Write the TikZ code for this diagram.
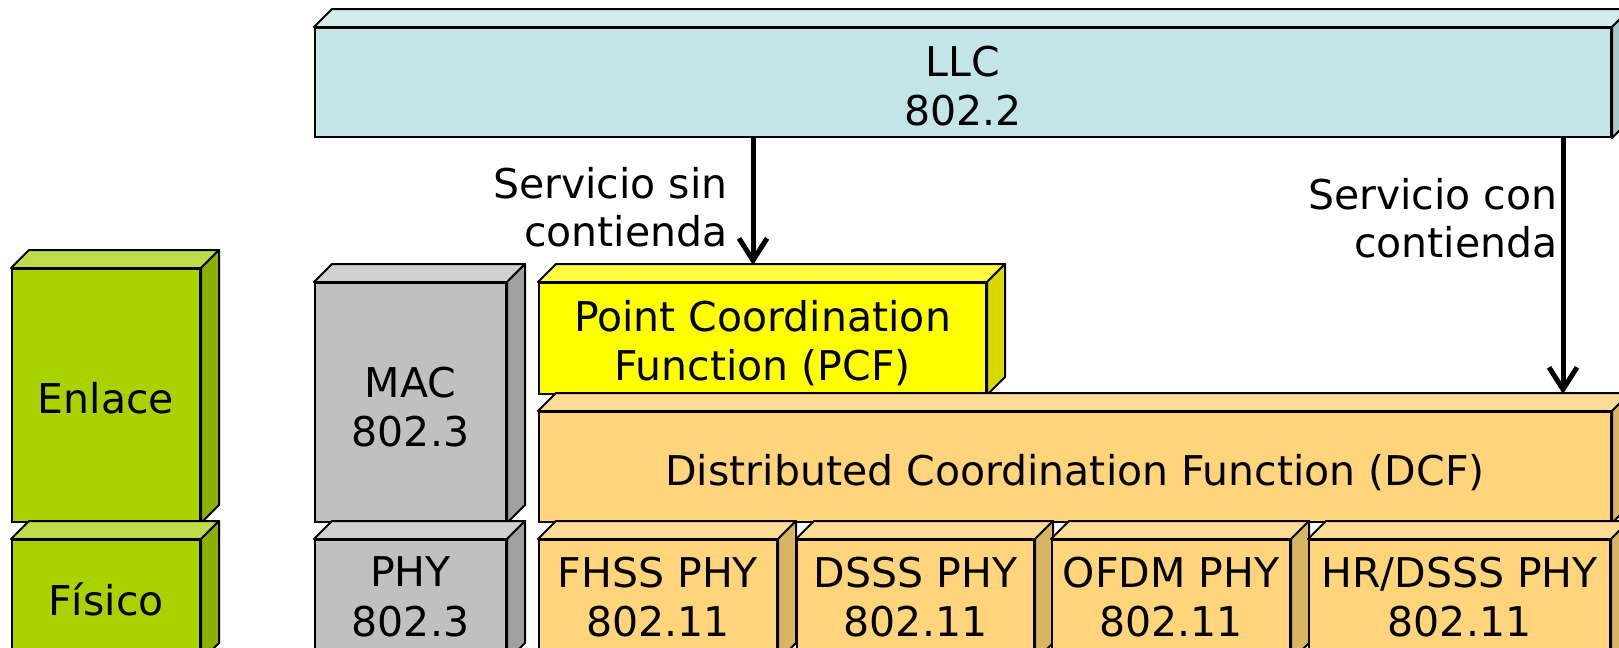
\documentclass[tikz,border=0pt]{standalone}
\usepackage{fontspec}
\setmainfont{DejaVu Sans}
\usetikzlibrary{arrows.meta}
\definecolor{llcF}{HTML}{C4E5E8}
\definecolor{llcT}{HTML}{D4ECEE}
\definecolor{llcS}{HTML}{A9C8CB}
\definecolor{grnF}{HTML}{AAD200}
\definecolor{grnT}{HTML}{BCDC48}
\definecolor{grnS}{HTML}{8CB000}
\definecolor{gryF}{HTML}{C0C0C0}
\definecolor{gryT}{HTML}{D0D0D0}
\definecolor{gryS}{HTML}{A0A0A0}
\definecolor{yelF}{HTML}{FFFF00}
\definecolor{yelT}{HTML}{FFFF40}
\definecolor{yelS}{HTML}{D9D900}
\definecolor{orgF}{HTML}{FFD47A}
\definecolor{orgT}{HTML}{FFDD96}
\definecolor{orgS}{HTML}{D9B461}
\newcommand\fsz{\fontsize{20.5}{24}\selectfont}
\newcommand\fszb{\fontsize{20.5}{24.8}\selectfont}
\tikzset{
  face/.style={draw, line width=1pt, inner sep=0pt},
  btxt/.style={inner sep=0pt, align=center, font=\fszb},
  edge/.style={draw=black, line width=1pt, line join=round},
  arr/.style={line width=2.5pt, -{Straight Barb[length=11pt,width=14pt]}},
  lbl/.style={align=right, inner sep=0pt, font=\fsz}
}
% name, x1, y1, x2, y2, colour set, text, text offset (px, down)
\newcommand\blk[8]{%
  \node[face, fill=#6F, minimum width={(#4-#2)*0.5pt}, minimum height={(#5-#3)*0.5pt}]
    (#1) at ({(#2+#4)/2},{(#3+#5)/2}) {};
  \filldraw[edge, fill=#6T] (#1.north west) -- ++(18,-18) -- ([shift={(18,-18)}]#1.north east) -- (#1.north east) -- cycle;
  \filldraw[edge, fill=#6S] (#1.north east) -- ++(18,-18) -- ([shift={(18,-18)}]#1.south east) -- (#1.south east) -- cycle;
  \node[btxt] (#1txt) at ([shift={(0,#8)}]#1.center) {#7};
}
\begin{document}
\begin{tikzpicture}[x=0.5pt,y=-0.5pt]
\useasboundingbox (0,0) rectangle (1619,648);
\clip (0,0) rectangle (1619,648);
\blk{llc}{315}{28}{1611}{137}{llc}{LLC\\802.2}{3.5}
\blk{enl}{12}{269}{200}{522}{grn}{Enlace}{2.5}
\blk{fis}{12}{540}{200}{660}{grn}{Físico}{-1}
\blk{mac}{315}{283}{506}{522}{gry}{MAC\\802.3}{4.5}
\blk{phy}{315}{540}{506}{660}{gry}{PHY\\802.3}{-3}
\blk{pcf}{539}{283}{986}{394}{yel}{Point Coordination\\Function (PCF)}{4.5}
\blk{dcf}{539}{412}{1611}{522}{org}{Distributed Coordination Function (DCF)}{6}
\blk{fhss}{539}{540}{777}{660}{org}{FHSS PHY\\802.11}{-3}
\blk{dsss}{797}{540}{1034}{660}{org}{DSSS PHY\\802.11}{-3}
\blk{ofdm}{1052}{540}{1290}{660}{org}{OFDM PHY\\802.11}{-3}
\blk{hr}{1309}{540}{1610}{660}{org}{HR/DSSS PHY\\802.11}{-3}
\coordinate (t1) at (753,265);
\coordinate (t2) at (1563,394);
\draw[arr] (llc.south -| t1) -- (t1);
\draw[arr] (llc.south -| t2) -- (t2);
\node[lbl, anchor=east] (l1) at (728,207) {Servicio sin\\contienda};
\node[lbl, anchor=east] (l2) at (1558,218) {Servicio con\\contienda};
\end{tikzpicture}
\end{document}
